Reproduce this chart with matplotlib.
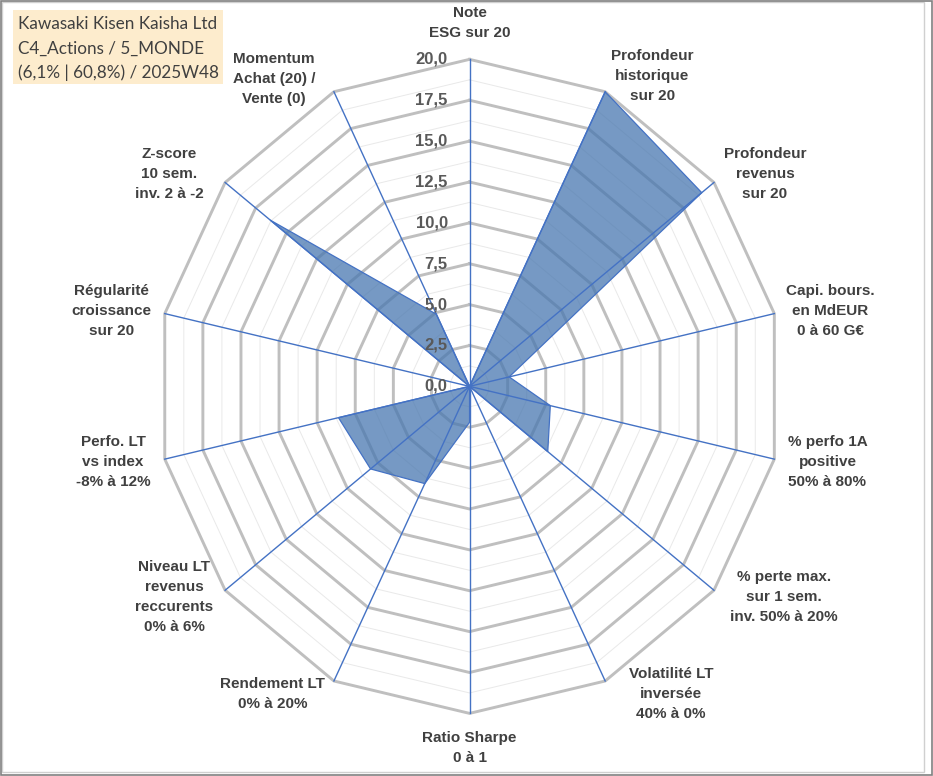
import numpy as np
import matplotlib.pyplot as plt
from matplotlib.patches import Rectangle

# axes of the radar, clockwise from the top
labels = ["Note\nESG sur 20",
          "Profondeur\nhistorique\nsur 20",
          "Profondeur\nrevenus\nsur 20",
          "Capi. bours.\nen MdEUR\n0 à 60 G€",
          "% perfo 1A\npositive\n50% à 80%",
          "% perte max.\nsur 1 sem.\ninv. 50% à 20%",
          "Volatilité LT\ninversée\n40% à 0%",
          "Ratio Sharpe\n0 à 1",
          "Rendement LT\n0% à 20%",
          "Niveau LT\nrevenus\nreccurents\n0% à 6%",
          "Perfo. LT\nvs index\n-8% à 12%",
          "Régularité\ncroissance\nsur 20",
          "Z-score\n10 sem.\ninv. 2 à -2",
          "Momentum\nAchat (20) /\nVente (0)"]
values = [0, 20, 19, 2.6, 5.3, 6.4, 0, 2.2, 6.6, 8.1, 8.6, 0, 16.3, 4.9]
ticks = [0, 2.5, 5, 7.5, 10, 12.5, 15, 17.5, 20]
tick_labels = ["0,0", "2,5", "5,0", "7,5", "10,0", "12,5", "15,0", "17,5", "20,0"]
title_lines = ["Kawasaki Kisen Kaisha Ltd",
               "C4_Actions / 5_MONDE",
               "(6,1% | 60,8%) / 2025W48"]

# where the axis labels sit (data units)
label_xy = [(0.0, 22.2), (11.7, 19.0), (18.9, 13.0), (23.1, 4.6),
            (22.9, -4.6), (20.1, -12.9), (12.9, -18.8), (0.0, -22.1),
            (-12.6, -18.8), (-18.9, -12.9), (-22.8, -4.6), (-22.9, 4.6),
            (-19.2, 13.0), (-12.5, 18.8)]

n = len(labels)
theta = 2 * np.pi * np.arange(n) / n
sx, sy = np.sin(theta), np.cos(theta)

fig = plt.figure(figsize=(9.33, 7.76), dpi=100)
ax = fig.add_axes([0, 0, 1, 1])
ax.set_xlim(-30.04, 29.65)
ax.set_ylim(-23.83, 23.63)
ax.set_axis_off()

txt = "#404040"
grid = "#BFBFBF"
blue = "#4472C4"

# rings
for k in range(16):
    r = 1.25 * (k + 1)
    major = (k % 2 == 1)
    xs = np.append(r * sx, r * sx[0])
    ys = np.append(r * sy, r * sy[0])
    ax.plot(xs, ys, color=grid if major else "#E9E9E9",
            lw=2.1 if major else 0.7, zorder=1 if major else 0.5,
            solid_joinstyle="miter")

# data polygon
v = np.array(values)
ax.fill(v * sx, v * sy, color="#4877B0", alpha=0.75, lw=0, zorder=2)
ax.plot(np.append(v * sx, v[0] * sx[0]), np.append(v * sy, v[0] * sy[0]),
        color=blue, lw=0.9, zorder=3)

# spokes
for i in range(n):
    ax.plot([0, 20 * sx[i]], [0, 20 * sy[i]], color=blue, lw=1.0, zorder=3)

# tick labels
for t, tl in zip(ticks, tick_labels):
    ax.text(-1.4, t, tl, ha="right", va="center", fontsize=12,
            fontweight="bold", color="#595959", family="Liberation Sans",
            zorder=4)

# axis labels
for (lx, ly), lab in zip(label_xy, labels):
    ax.text(lx, ly, lab, ha="center", va="center", multialignment="center",
            fontsize=11, fontweight="bold", color=txt,
            family="Liberation Sans", linespacing=1.55, zorder=4)

# title box
fig.patches.append(Rectangle((13 / 933, 1 - 84 / 776), 210 / 933, 74 / 776,
                             transform=fig.transFigure, facecolor="#FDECCD",
                             edgecolor="none", zorder=0))
for i, line in enumerate(title_lines):
    fig.text(18 / 933, 1 - (24 + 24.5 * i) / 776, line, ha="left",
             va="center", fontsize=12.3, color=txt, family="Lato")

# outer frame
fig.patches.append(Rectangle((2 / 933, 4 / 776), 922 / 933, 770 / 776,
                             transform=fig.transFigure, facecolor="none",
                             edgecolor="#D0D0D0", lw=1.0))
fig.patches.append(Rectangle((0.5 / 933, 1 / 776), 931 / 933, 774 / 776,
                             transform=fig.transFigure, facecolor="none",
                             edgecolor="#808080", lw=1.2))

fig.savefig("out.png", dpi=100)
